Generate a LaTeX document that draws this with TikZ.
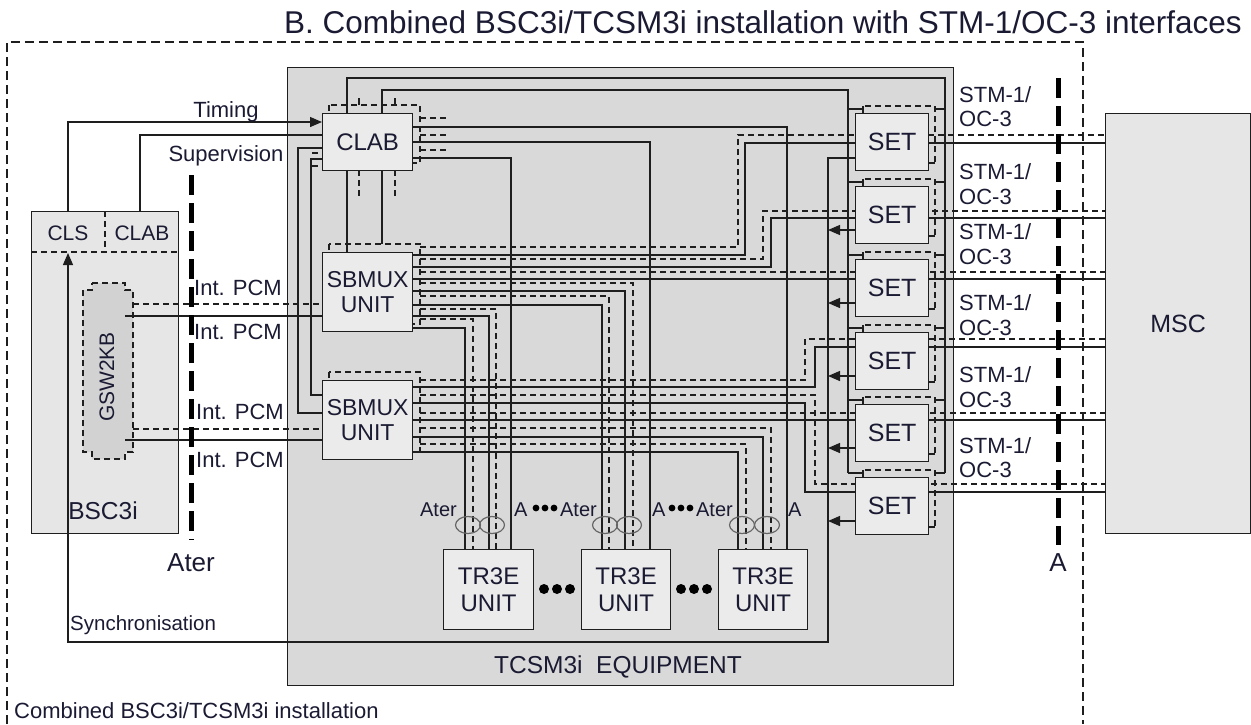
\documentclass[tikz,border=0pt]{standalone}
\usepackage{fontspec}
\setmainfont{Liberation Sans}
\usetikzlibrary{arrows.meta,shapes.geometric}
\definecolor{tcsm}{HTML}{D9D9D9}
\definecolor{boxf}{HTML}{EBEBEB}
\definecolor{bscf}{HTML}{E6E6E6}
\definecolor{gswf}{HTML}{D2D2D2}
\definecolor{ink}{HTML}{1E1E1E}
\definecolor{txt}{HTML}{1A1A33}
\begin{document}
\begin{tikzpicture}[x=1pt,y=-1pt,
  wire/.style={line width=1.3pt, draw=ink},
  dwire/.style={wire, dash pattern=on 6pt off 4pt},
  backbox/.style={line width=1.3pt, draw=ink, dash pattern=on 6pt off 4pt},
  unitbox/.style={draw=ink, line width=1.3pt, fill=boxf, inner sep=0pt, align=center, text=txt, font=\fontsize{24}{26}\selectfont},
  lbl/.style={inner sep=0pt, text=txt, font=\fontsize{22}{24.5}\selectfont},
  bigdash/.style={line width=5pt, draw=black, dash pattern=on 20pt off 8pt},
  arr/.style={-{Triangle[length=12pt,width=10pt]}},
  ring/.style={draw=black!60, line width=1.2pt, ellipse, minimum width=25pt, minimum height=17pt, inner sep=0pt},
]
\useasboundingbox (0,0) rectangle (1251,724);

% outer installation frame
\draw[line width=1.4pt, draw=ink, dash pattern=on 9pt off 5pt] (7,724) -- (7,42) -- (1083,42) -- (1083,724);
\node[lbl, anchor=west, font=\fontsize{31.5}{33}\selectfont] (title) at (284,22) {B. Combined BSC3i/TCSM3i installation with STM-1/OC-3 interfaces};
\node[lbl, anchor=west] (comb) at (14,711) {Combined BSC3i/TCSM3i installation};

% TCSM equipment
\node[draw=ink, line width=1.3pt, fill=tcsm, minimum width=666pt, minimum height=618pt, anchor=north west, inner sep=0pt] (tcsm) at (287,67) {};
\node[lbl, font=\fontsize{24.5}{26}\selectfont] (tcsmlbl) at (618,667) {TCSM3i\ \ EQUIPMENT};

% BSC3i
\node[draw=ink, line width=1.3pt, fill=bscf, minimum width=147pt, minimum height=322pt, anchor=north west, inner sep=0pt] (bsc) at (31,211) {};
\draw[dwire] (31,252) -- (178,252);
\draw[dwire] (105,211) -- (105,252);
\node[lbl, font=\fontsize{21}{23}\selectfont] (cls) at (68,233) {CLS};
\node[lbl, font=\fontsize{21}{23}\selectfont] (bscclab) at (142,233) {CLAB};
\node[lbl, font=\fontsize{24.5}{26}\selectfont] (bsclbl) at (103,511) {BSC3i};
\draw[backbox, fill=gswf] (92,283) -- (125,283) -- (125,290) -- (133,290) -- (133,452) -- (125,452) -- (125,459) -- (92,459) -- (92,452) -- (83,452) -- (83,290) -- (92,290) -- cycle;
\node[lbl, rotate=90, font=\fontsize{21}{23}\selectfont] (gsw) at (107,377) {GSW2KB};

% MSC
\node[unitbox, fill=bscf, minimum width=145pt, minimum height=420pt, anchor=north west, font=\fontsize{25}{27}\selectfont] (msc) at (1105,113) {MSC};

% ---------- wires ----------
% timing, supervision, synchronisation
\draw[wire, arr] (68,211) -- (68,122) -- (322,122);
\draw[wire] (140,211) -- (140,135) -- (322,135);
\draw[wire, arr] (855,158) -- (828,158) -- (828,642) -- (68,642) -- (68,253);
% Int. PCM
\draw[dwire] (133,304) -- (322,304);
\draw[wire] (125,316) -- (322,316);
\draw[dwire] (133,429) -- (322,429);
\draw[wire] (125,440) -- (322,440);
% CLAB connections
\draw[wire] (347,113) -- (347,78) -- (945,78) -- (945,473);
\draw[wire] (382,113) -- (382,90) -- (848,90) -- (848,473);
\draw[wire] (347,170) -- (347,252);
\draw[wire] (382,170) -- (382,244);
\draw[wire] (359,98) -- (359,105);
\draw[wire] (395,98) -- (395,105);
\draw[dwire] (359,170) -- (359,197);
\draw[dwire] (395,170) -- (395,197);
\draw[wire] (412,127) -- (787,127) -- (787,549);
\draw[wire] (412,142) -- (650,142) -- (650,549);
\draw[wire] (412,158) -- (511,158) -- (511,549);
\draw[wire] (322,148) -- (298,148) -- (298,413) -- (322,413);
\draw[wire] (322,159) -- (311,159) -- (311,395) -- (322,395);
\draw[dwire] (420,118) -- (447,118);
\draw[dwire] (420,135) -- (447,135);
\draw[dwire] (420,150) -- (447,150);
\draw[dwire] (312,153) -- (322,153);
\draw[dwire] (312,166) -- (322,166);
% SBMUX 1 pairs
\draw[dwire] (420,247) -- (738,247) -- (738,135) -- (1105,135);
\draw[wire]  (412,255) -- (745,255) -- (745,143) -- (1105,143);
\draw[dwire] (420,259) -- (763,259) -- (763,211) -- (1105,211);
\draw[wire]  (412,267) -- (771,267) -- (771,218) -- (1105,218);
\draw[dwire] (420,272) -- (1105,272);
\draw[wire]  (412,279) -- (1105,279);
\draw[dwire] (420,283) -- (633,283) -- (633,549);
\draw[wire]  (412,291) -- (625,291) -- (625,549);
\draw[dwire] (420,296) -- (609,296) -- (609,549);
\draw[wire]  (412,305) -- (602,305) -- (602,549);
\draw[dwire] (420,309) -- (496,309) -- (496,549);
\draw[wire]  (412,316) -- (489,316) -- (489,549);
\draw[dwire] (420,319) -- (473,319) -- (473,549);
\draw[wire]  (412,328) -- (465,328) -- (465,549);
% SBMUX 2 pairs
\draw[dwire] (420,380) -- (805,380) -- (805,339) -- (1105,339);
\draw[wire]  (412,387) -- (815,387) -- (815,347) -- (1105,347);
\draw[dwire] (420,395) -- (815,395) -- (815,484) -- (1105,484);
\draw[wire]  (412,403) -- (805,403) -- (805,492) -- (1105,492);
\draw[dwire] (420,413) -- (1105,413);
\draw[wire]  (412,420) -- (1105,420);
\draw[dwire] (420,428) -- (771,428) -- (771,549);
\draw[wire]  (412,437) -- (763,437) -- (763,549);
\draw[dwire] (420,444) -- (746,444) -- (746,549);
\draw[wire]  (412,452) -- (738,452) -- (738,549);

% ---------- units ----------
\draw[backbox] (329,105) rectangle (420,163);
\node[unitbox, minimum width=90pt, minimum height=57pt, anchor=north west] (clab) at (322,113) {CLAB};
\draw[backbox] (329,244) rectangle (420,324);
\node[unitbox, minimum width=90pt, minimum height=79pt, anchor=north west, font=\fontsize{23}{25}\selectfont] (sbmux1) at (322,252) {SBMUX\\UNIT};
\draw[backbox] (329,372) rectangle (420,452);
\node[unitbox, minimum width=90pt, minimum height=79pt, anchor=north west, font=\fontsize{23}{25}\selectfont] (sbmux2) at (322,380) {SBMUX\\UNIT};

\node[unitbox, minimum width=90pt, minimum height=80pt, anchor=north west, font=\fontsize{24}{27}\selectfont] (tr1) at (443,549) {TR3E\\UNIT};
\node[unitbox, minimum width=89pt, minimum height=80pt, anchor=north west, font=\fontsize{24}{27}\selectfont] (tr2) at (581,549) {TR3E\\UNIT};
\node[unitbox, minimum width=89pt, minimum height=80pt, anchor=north west, font=\fontsize{24}{27}\selectfont] (tr3) at (718,549) {TR3E\\UNIT};
\foreach \cx in {544,557,570,681,694,707} \fill[black] (\cx,589) circle (5pt);

% SETs
\foreach \t [count=\i] in {113,186,259,332,404,477} {
  \draw[backbox] (863,\t-7) rectangle (935,\t+50);
  \draw[wire] (848,\t-4) -- (863,\t-4) -- (863,\t);
  \draw[wire] (935,\t-4) -- (945,\t-4);
  \node[unitbox, minimum width=73pt, minimum height=57pt, anchor=north west, font=\fontsize{25}{27}\selectfont] (set\i) at (855,\t) {SET};
  \draw[wire] (928,\t+50) -- (935,\t+50);
}
\foreach \t in {186,259,332,404,477} \draw[wire, arr] (855,\t+44) -- (828,\t+44);

% Ater / A rings
\node[ring] (r1a) at (468,525) {};
\node[ring] (r1b) at (492,525) {};
\node[ring] (r2a) at (605,525) {};
\node[ring] (r2b) at (629,525) {};
\node[ring] (r3a) at (742,525) {};
\node[ring] (r3b) at (767,525) {};
\begin{scope}[every node/.style={lbl, font=\fontsize{20}{22}\selectfont}]
\node[anchor=east] (at1) at (457,510) {Ater};
\node[anchor=west] (a1) at (514,510) {A};
\node[anchor=east] (at2) at (597,510) {Ater};
\node[anchor=west] (a2) at (652,510) {A};
\node[anchor=east] (at3) at (733,510) {Ater};
\node[anchor=west] (a3) at (788,510) {A};
\end{scope}
\foreach \cx in {536,545,554,672,681,690} \fill[black] (\cx,508) circle (3.4pt);

% interface lines
\draw[bigdash] (191,175) -- (191,540);
\draw[bigdash] (1058,78) -- (1058,545);
\node[lbl, font=\fontsize{26}{28}\selectfont] (aterlbl) at (191,563) {Ater};
\node[lbl, font=\fontsize{26}{28}\selectfont] (albl) at (1058,563) {A};

% labels
\node[lbl] (timing) at (226,112) {Timing};
\node[lbl] (superv) at (226,156) {Supervision};
\node[lbl, anchor=west] (pcm1) at (194,288) {Int. PCM};
\node[lbl, anchor=west] (pcm2) at (194,332) {Int. PCM};
\node[lbl, anchor=west] (pcm3) at (196,412) {Int. PCM};
\node[lbl, anchor=west] (pcm4) at (196,460) {Int. PCM};
\node[lbl, anchor=west, font=\fontsize{20.5}{22}\selectfont] (sync) at (70,625) {Synchronisation};
\foreach \y [count=\i] in {106.5,184,244,315,387,457.5}
  \node[lbl, anchor=west, align=left] (stm\i) at (959,\y) {STM-1/\\OC-3};
\end{tikzpicture}
\end{document}
